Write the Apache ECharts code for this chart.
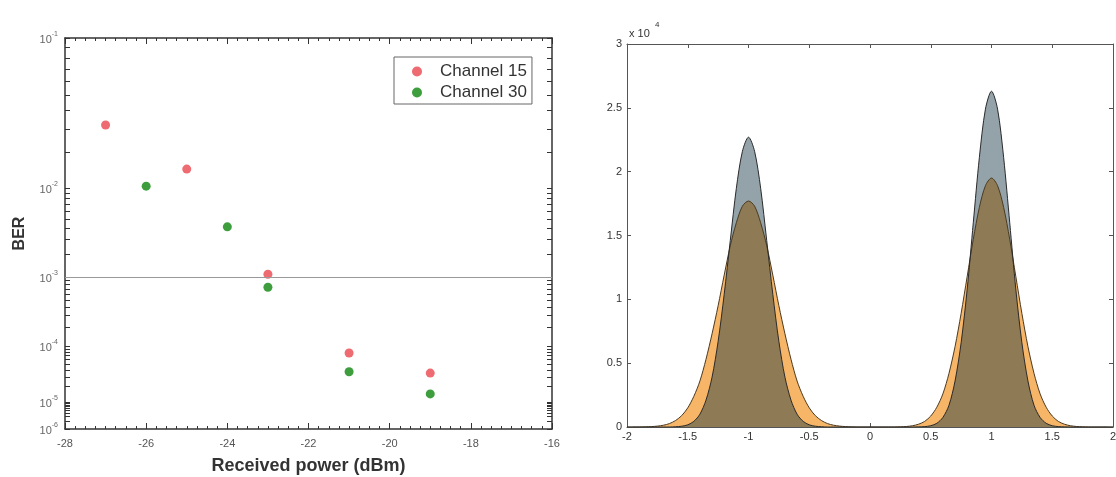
<!DOCTYPE html>
<html>
<head>
<meta charset="utf-8">
<script src="https://cdn.jsdelivr.net/npm/echarts@6/dist/echarts.min.js"></script>
<style>
html,body{margin:0;padding:0;background:#fff;}
#c{width:1116px;height:477px;}
</style>
</head>
<body>
<div id="c"></div>
<script>
// ---- Left panel: BER vs received power ----
const POWER_CH15 = [-27, -25, -23, -21, -19];
const BER_CH15   = [0.0320, 0.0147, 1.09e-3, 7.7e-5, 3.5e-5];
const POWER_CH30 = [-26, -24, -23, -21, -19];
const BER_CH30   = [0.0104, 4.1e-3, 7.4e-4, 3.7e-5, 1.44e-5];
const BER_TICKS  = [1e-1, 1e-2, 1e-3, 1e-4, 1e-5, 1e-6];
// relative spacing of the decades on the BER axis
const DECADE_SPAN = [0, 150, 239, 308, 364, 391];
const BER_MINOR_MULT = [1, 2, 3, 4, 5, 6, 7, 8, 9];
const BER_LIMIT = 1e-3;
const X_TICKS_LEFT = [-28, -16];

// ---- Right panel: histograms ----
const HIST_X = [-2.00,-1.95,-1.90,-1.85,-1.80,-1.75,-1.70,-1.65,-1.60,-1.55,-1.50,-1.45,-1.40,-1.35,-1.30,-1.25,-1.20,-1.15,-1.10,-1.05,
 -1.00,-0.95,-0.90,-0.85,-0.80,-0.75,-0.70,-0.65,-0.60,-0.55,-0.50,-0.45,-0.40,-0.35,-0.30,-0.25,-0.20,-0.15,-0.10,-0.05,
 0.00,0.05,0.10,0.15,0.20,0.25,0.30,0.35,0.40,0.45,0.50,0.55,0.60,0.65,0.70,0.75,0.80,0.85,0.90,0.95,
 1.00,1.05,1.10,1.15,1.20,1.25,1.30,1.35,1.40,1.45,1.50,1.55,1.60,1.65,1.70,1.75,1.80,1.85,1.90,1.95,2.00];
const HIST_GRAY = [0,0,0,0,0,0,0,0,20,60,170,440,1000,2100,3900,6700,10400,14600,18700,21600,
 22700,21600,18700,14600,10400,6700,3900,2100,1000,440,170,60,20,0,0,0,0,0,0,0,
 0,0,0,0,0,0,0,0,10,30,100,290,750,1700,3600,6600,10800,16000,21100,24900,
 26300,24900,21100,16000,10800,6600,3600,1700,750,290,100,30,10,0,0,0,0,0,0,0,0];
const HIST_ORANGE = [0,0,0,10,30,70,140,270,510,890,1500,2400,3600,5300,7300,9500,11900,14200,16000,17300,
 17700,17300,16000,14200,11900,9500,7300,5300,3600,2400,1500,890,510,270,140,70,30,10,0,0,
 0,0,0,0,0,10,40,100,220,440,860,1550,2600,4200,6300,8900,11800,14700,17200,18900,
 19500,18900,17200,14700,11800,8900,6300,4200,2600,1550,860,440,220,100,40,10,0,0,0,0,0];

// BER axis scale: double-log within each decade, decades placed by DECADE_SPAN
function loglog(v){ return Math.log10(-Math.log10(v)); }
function berScale(v){
  const d = -Math.log10(v);            // 1 .. 6
  let k = Math.min(Math.max(Math.floor(d + 1e-9) - 1, 0), BER_TICKS.length - 2);
  const a = loglog(BER_TICKS[k]), b = loglog(BER_TICKS[k + 1]);
  const f = (loglog(v) - a) / (b - a);
  return DECADE_SPAN[k] + f * (DECADE_SPAN[k + 1] - DECADE_SPAN[k]);
}

const majorVals = BER_TICKS.map(berScale);
const minorVals = [];
for (let k = 2; k <= 6; k++) {
  BER_MINOR_MULT.forEach(m => minorVals.push(berScale(m * Math.pow(10, -k))));
}
minorVals.push(berScale(BER_TICKS[0]));
const yMin = berScale(BER_TICKS[0]);
const yMax = berScale(BER_TICKS[BER_TICKS.length - 1]);

function berLabel(val){
  let best = 0, bd = 1e9;
  majorVals.forEach((m,i)=>{ const d=Math.abs(m-val); if(d<bd){bd=d;best=i;} });
  const e = Math.round(Math.log10(BER_TICKS[best]));
  return '{b|10}{s|' + String(e) + '}';
}

const FONT = 'Liberation Sans';
const axisGrayL = '#333';

const chart = echarts.init(document.getElementById('c'), null, {renderer:'canvas'});

const option = {
  animation: false,
  backgroundColor: '#fff',
  textStyle: {fontFamily: FONT},
  grid: [
    {left: 65, right: 564, top: 38, bottom: 48, show: false, containLabel: false, outerBoundsMode: 'none'},
    {left: 627, right: 3, top: 44, bottom: 50, show: false, containLabel: false, outerBoundsMode: 'none'}
  ],
  legend: {
    data: ['Channel 15', 'Channel 30'],
    left: 394, top: 57,
    orient: 'vertical',
    icon: 'circle',
    itemWidth: 30, itemHeight: 10, itemGap: 4,
    padding: [6, 5, 3, 18],
    borderColor: '#666', borderWidth: 1,
    textStyle: {fontSize: 17, color: '#333', fontFamily: FONT, lineHeight: 16, padding: [0,0,0,3]}
  },
  xAxis: [
    { gridIndex: 0, type: 'value', min: X_TICKS_LEFT[0], max: X_TICKS_LEFT[1], interval: 2, position: 'bottom',
      name: 'Received power (dBm)', nameLocation: 'middle', nameGap: 28,
      nameTextStyle: {fontSize: 18, fontWeight: 'bold', color: '#333', fontFamily: FONT},
      axisLine: {show: true, onZero: false, lineStyle: {color: axisGrayL, width: 1.5}},
      axisTick: {show: true, inside: true, length: 6, lineStyle: {color: axisGrayL}},
      minorTick: {show: true, splitNumber: 8, length: 3, lineStyle: {color: axisGrayL}},
      axisLabel: {fontSize: 11, color: '#555', margin: 9},
      splitLine: {show: false}, minorSplitLine: {show: false} },
    { gridIndex: 0, type: 'value', min: X_TICKS_LEFT[0], max: X_TICKS_LEFT[1], interval: 2, position: 'top',
      axisLine: {show: true, onZero: false, lineStyle: {color: axisGrayL, width: 1.5}},
      axisTick: {show: true, inside: true, length: 6, lineStyle: {color: axisGrayL}},
      minorTick: {show: true, splitNumber: 8, length: 3, lineStyle: {color: axisGrayL}},
      axisLabel: {show: false}, splitLine: {show: false} },
    { gridIndex: 1, type: 'value', min: -2, max: 2, interval: 0.5, position: 'bottom',
      axisLine: {show: true, onZero: false, lineStyle: {color: '#555', width: 1}},
      axisTick: {show: true, inside: true, length: 4, lineStyle: {color: '#555'}},
      axisLabel: {fontSize: 11, color: '#333', margin: 4},
      splitLine: {show: false} },
    { gridIndex: 1, type: 'value', min: -2, max: 2, interval: 0.5, position: 'top',
      axisLine: {show: true, onZero: false, lineStyle: {color: '#555', width: 1}},
      axisTick: {show: true, inside: true, length: 4, lineStyle: {color: '#555'}},
      axisLabel: {show: false}, splitLine: {show: false} }
  ],
  yAxis: [
    { gridIndex: 0, type: 'value', inverse: true, min: yMin, max: yMax, position: 'left',
      name: 'BER', nameLocation: 'middle', nameGap: 37, nameRotate: 90,
      nameTextStyle: {fontSize: 16, fontWeight: 'bold', color: '#333', fontFamily: FONT},
      axisLine: {show: true, onZero: false, lineStyle: {color: axisGrayL, width: 1.5}},
      axisTick: {show: true, inside: true, length: 5, customValues: minorVals, lineStyle: {color: axisGrayL}},
      axisLabel: {show: true, customValues: majorVals, margin: 7, formatter: berLabel,
        rich: {
          b: {fontSize: 11, color: '#666', fontFamily: FONT, verticalAlign: 'bottom', lineHeight: 14},
          s: {fontSize: 7, color: '#666', fontFamily: FONT, verticalAlign: 'top', lineHeight: 14}
        }},
      splitLine: {show: false} },
    { gridIndex: 0, type: 'value', inverse: true, min: yMin, max: yMax, position: 'right',
      axisLine: {show: true, onZero: false, lineStyle: {color: axisGrayL, width: 1.5}},
      axisTick: {show: true, inside: true, length: 5, customValues: minorVals, lineStyle: {color: axisGrayL}},
      axisLabel: {show: false}, splitLine: {show: false} },
    { gridIndex: 1, type: 'value', min: 0, max: 30000, interval: 5000, position: 'left',
      axisLine: {show: true, onZero: false, lineStyle: {color: '#555', width: 1}},
      axisTick: {show: true, inside: true, length: 4, lineStyle: {color: '#555'}},
      axisLabel: {fontSize: 11, color: '#333', margin: 5, formatter: v => String(v / 10000)},
      splitLine: {show: false} },
    { gridIndex: 1, type: 'value', min: 0, max: 30000, interval: 5000, position: 'right',
      axisLine: {show: true, onZero: false, lineStyle: {color: '#555', width: 1}},
      axisTick: {show: true, inside: true, length: 4, lineStyle: {color: '#555'}},
      axisLabel: {show: false}, splitLine: {show: false} }
  ],
  graphic: [
    {type: 'text', left: 629, top: 28, style: {text: 'x 10', fontSize: 11, fill: '#333', fontFamily: FONT}},
    {type: 'text', left: 655, top: 21, style: {text: '4', fontSize: 8, fill: '#333', fontFamily: FONT}}
  ],
  series: [
    { name: 'Channel 15', type: 'scatter', xAxisIndex: 0, yAxisIndex: 0,
      symbolSize: 9, itemStyle: {color: '#e8464d'},
      data: POWER_CH15.map((p, i) => [p, berScale(BER_CH15[i])]),
      markLine: {silent: true, symbol: 'none', label: {show: false},
        lineStyle: {color: '#999', width: 1, type: 'solid'},
        data: [{yAxis: berScale(BER_LIMIT)}]} },
    { name: 'Channel 30', type: 'scatter', xAxisIndex: 0, yAxisIndex: 0,
      symbolSize: 9, itemStyle: {color: '#0e860e'},
      data: POWER_CH30.map((p, i) => [p, berScale(BER_CH30[i])]) },
    { name: 'orange', type: 'line', xAxisIndex: 2, yAxisIndex: 2, showSymbol: false, smooth: 0.3,
      lineStyle: {color: '#4a3a22', width: 1},
      areaStyle: {color: '#f6b567', opacity: 1},
      data: HIST_X.map((x, i) => [x, HIST_ORANGE[i]]) },
    { name: 'gray', type: 'line', xAxisIndex: 2, yAxisIndex: 2, showSymbol: false, smooth: 0.3,
      lineStyle: {color: '#2a2a2a', width: 1},
      areaStyle: {color: 'rgba(15,50,65,0.45)', opacity: 1},
      data: HIST_X.map((x, i) => [x, HIST_GRAY[i]]) }
  ]
};
chart.setOption(option);
</script>
</body>
</html>
